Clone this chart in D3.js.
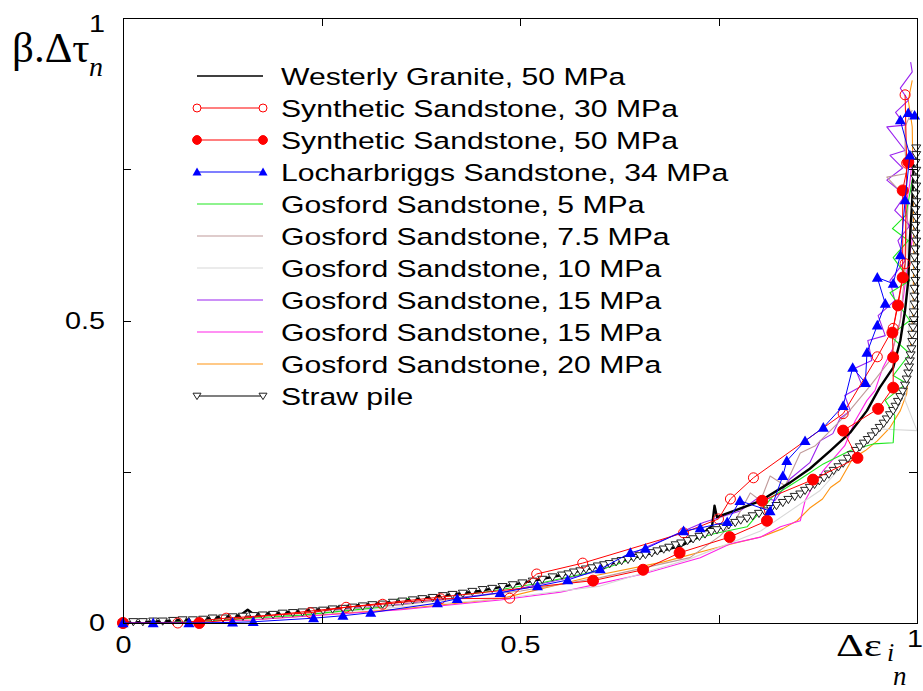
<!DOCTYPE html>
<html lang="en">
<head>
    <meta charset="UTF-8">
    <title>Normalised stress vs strain</title>
    <script type="text/javascript" src="https://cdn.jsdelivr.net/npm/d3@7/dist/d3.min.js"></script>
    <style>
        body { margin: 0; background: #fff; }
        .axis path,
        .axis line {
            fill: none;
            stroke: black;
            shape-rendering: crispEdges;
        }
        .axis text {
            font-family: "Liberation Sans", Arial, sans-serif;
            font-size: 24px;
            fill: black;
        }
        .legend text {
            font-family: "Liberation Sans", Arial, sans-serif;
            font-size: 24.5px;
        }
        .serif { font-family: "Liberation Serif", "Times New Roman", serif; }
    </style>
</head>
<body>
<script type="text/javascript">
    // series names (legend order)
    let seriesNames = [
        'Westerly Granite, 50 MPa',
        'Synthetic Sandstone, 30 MPa',
        'Synthetic Sandstone, 50 MPa',
        'Locharbriggs Sandstone, 34 MPa',
        'Gosford Sandstone, 5 MPa',
        'Gosford Sandstone, 7.5 MPa',
        'Gosford Sandstone, 10 MPa',
        'Gosford Sandstone, 15 MPa',
        'Gosford Sandstone, 15 MPa',
        'Gosford Sandstone, 20 MPa',
        'Straw pile'
    ];

    let xTicks = [0, 0.25, 0.5, 0.75, 1];
    let yTicks = [0, 0.25, 0.5, 0.75, 1];
    let tickLabels = {0: '0', 0.5: '0.5', 1: '1'};

    // [x, y] pairs
    let westerly = [[0,0],[0.048,0.003],[0.098,0.007],[0.148,0.013],[0.157,0.022],[0.164,0.015],[0.199,0.017],
        [0.249,0.023],[0.299,0.030],[0.350,0.036],[0.400,0.045],[0.450,0.053],[0.501,0.066],[0.551,0.079],
        [0.601,0.094],[0.652,0.111],[0.702,0.127],[0.727,0.144],[0.742,0.161],[0.745,0.194],[0.748,0.175],
        [0.777,0.189],[0.803,0.202],[0.840,0.232],[0.865,0.255],[0.891,0.285],[0.916,0.315],[0.937,0.351],
        [0.953,0.389],[0.970,0.422],[0.979,0.467],[0.985,0.517],[0.989,0.566],[0.991,0.632],[0.994,0.699],
        [0.996,0.765]];

    let synth30 = [[0,0],[0.069,0],[0.130,0.008],[0.236,0.017],[0.281,0.026],[0.327,0.031],[0.400,0.040],
        [0.487,0.041],[0.521,0.081],[0.579,0.099],[0.706,0.149],[0.750,0.172],[0.765,0.205],[0.794,0.240],
        [0.907,0.346],[0.950,0.440],[0.970,0.487],[0.985,0.594],[0.987,0.760],[0.985,0.873]];

    let synth50 = [[0,0],[0.096,0],[0.592,0.070],[0.655,0.088],[0.701,0.116],[0.764,0.142],[0.811,0.169],
        [0.805,0.202],[0.869,0.237],[0.925,0.273],[0.907,0.318],[0.951,0.354],[0.970,0.389],[0.970,0.439],
        [0.969,0.480],[0.976,0.525],[0.982,0.571],[0.982,0.715],[0.989,0.762]];

    let locharbriggs = [[0,0],[0.038,0],[0.083,0],[0.138,0.001],[0.164,0.002],[0.240,0.008],[0.277,0.012],
        [0.312,0.017],[0.396,0.033],[0.421,0.040],[0.475,0.050],[0.522,0.061],[0.560,0.071],[0.601,0.089],
        [0.639,0.116],[0.658,0.123],[0.706,0.152],[0.727,0.157],[0.761,0.167],[0.777,0.202],[0.815,0.185],
        [0.831,0.243],[0.836,0.268],[0.859,0.301],[0.882,0.323],[0.907,0.359],[0.919,0.422],[0.935,0.397],
        [0.937,0.447],[0.950,0.492],[0.960,0.528],[0.950,0.571],[0.970,0.561],[0.979,0.608],[0.985,0.699],
        [0.991,0.773],[0.979,0.831],[0.989,0.843],[0.997,0.839]];

    let gosford5 = [[0,0],[0.098,0.003],[0.224,0.013],[0.325,0.026],[0.347,0.040],[0.387,0.041],[0.450,0.050],
        [0.526,0.066],[0.597,0.086],[0.681,0.123],[0.743,0.147],[0.786,0.159],[0.803,0.185],[0.819,0.210],
        [0.853,0.238],[0.882,0.263],[0.916,0.285],[0.945,0.296],[0.970,0.298],[0.972,0.343],[0.960,0.368],
        [0.987,0.396],[0.970,0.409],[0.991,0.445],[0.966,0.475],[0.991,0.500],[0.966,0.546],[0.991,0.566],
        [0.970,0.604],[0.989,0.632],[0.969,0.652],[0.986,0.674],[0.994,0.732]];

    let gosford75 = [[0,0],[0.161,0.010],[0.350,0.030],[0.501,0.053],[0.601,0.075],[0.714,0.108],[0.752,0.144],
        [0.771,0.169],[0.790,0.215],[0.803,0.202],[0.815,0.243],[0.834,0.227],[0.853,0.281],[0.872,0.293],
        [0.891,0.318],[0.912,0.346],[0.941,0.392],[0.966,0.434],[0.979,0.500],[0.985,0.583],[0.987,0.649],
        [0.989,0.699],[0.962,0.737],[0.987,0.743],[0.985,0.781],[0.985,0.820],[0.994,0.848]];

    let gosford10 = [[0,0],[0.224,0.013],[0.475,0.040],[0.601,0.061],[0.714,0.106],[0.803,0.152],[0.878,0.219],
        [0.928,0.293],[0.947,0.321],[1.0,0.318],[0.985,0.368],[0.989,0.450],[0.991,0.533],[0.987,0.646]];

    let gosford15a = [[0,0],[0.161,0.010],[0.350,0.031],[0.475,0.050],[0.601,0.086],[0.655,0.123],[0.731,0.166],
        [0.777,0.185],[0.803,0.210],[0.821,0.202],[0.840,0.238],[0.865,0.265],[0.878,0.301],[0.894,0.313],
        [0.903,0.338],[0.916,0.351],[0.909,0.376],[0.931,0.392],[0.922,0.421],[0.943,0.434],[0.938,0.467],
        [0.960,0.475],[0.951,0.508],[0.972,0.533],[0.966,0.566],[0.985,0.599],[0.976,0.632],[0.991,0.657],
        [0.972,0.682],[0.985,0.707],[0.962,0.732],[0.982,0.752],[0.966,0.773],[0.985,0.781],[0.962,0.820],
        [0.985,0.823],[0.973,0.844],[0.989,0.864],[0.979,0.884],[0.994,0.911],[0.992,0.927]];

    let gosford15b = [[0,0],[0.161,0.005],[0.350,0.022],[0.475,0.038],[0.551,0.051],[0.655,0.081],[0.727,0.108],
        [0.765,0.131],[0.803,0.142],[0.828,0.159],[0.853,0.169],[0.859,0.202],[0.868,0.224],[0.882,0.252],
        [0.897,0.275],[0.909,0.293],[0.922,0.334],[0.937,0.368],[0.947,0.384],[0.957,0.422],[0.970,0.455],
        [0.979,0.500],[0.984,0.550],[0.989,0.599],[0.994,0.632],[0.985,0.682],[0.991,0.727],[0.995,0.781]];

    let gosford20 = [[0,0],[0.161,0.005],[0.350,0.023],[0.475,0.040],[0.597,0.079],[0.681,0.101],[0.752,0.126],
        [0.803,0.142],[0.831,0.156],[0.849,0.169],[0.865,0.190],[0.881,0.205],[0.891,0.224],[0.903,0.235],
        [0.919,0.272],[0.935,0.285],[0.950,0.301],[0.966,0.323],[0.979,0.351],[0.987,0.379],[0.991,0.439],
        [0.995,0.517],[0.996,0.616],[0.995,0.732],[0.994,0.820],[0.989,0.864],[0.994,0.897]];

    let strawPile = [[0,0],[0.013,0.002],[0.025,0.002],[0.038,0.003],[0.050,0.003],[0.063,0.004],[0.075,0.005],
        [0.088,0.005],[0.101,0.006],[0.113,0.008],[0.126,0.008],[0.138,0.010],[0.151,0.011],[0.164,0.012],
        [0.176,0.013],[0.189,0.014],[0.201,0.016],[0.214,0.017],[0.226,0.018],[0.239,0.020],[0.252,0.021],
        [0.264,0.023],[0.277,0.024],[0.289,0.026],[0.302,0.028],[0.314,0.030],[0.327,0.031],[0.340,0.034],
        [0.352,0.036],[0.365,0.038],[0.377,0.040],[0.390,0.042],[0.403,0.045],[0.415,0.047],[0.428,0.049],
        [0.440,0.052],[0.453,0.055],[0.465,0.057],[0.478,0.060],[0.491,0.063],[0.503,0.066],[0.516,0.069],
        [0.528,0.072],[0.541,0.076],[0.553,0.079],[0.561,0.081],[0.568,0.084],[0.576,0.086],[0.583,0.089],
        [0.591,0.091],[0.598,0.094],[0.606,0.096],[0.613,0.098],[0.621,0.101],[0.628,0.103],[0.636,0.105],
        [0.643,0.108],[0.651,0.111],[0.658,0.113],[0.666,0.116],[0.673,0.119],[0.681,0.122],[0.688,0.125],
        [0.696,0.129],[0.703,0.132],[0.711,0.136],[0.718,0.139],[0.726,0.143],[0.733,0.147],[0.741,0.151],
        [0.748,0.154],[0.756,0.158],[0.763,0.162],[0.771,0.166],[0.778,0.170],[0.786,0.173],[0.793,0.177],
        [0.801,0.181],[0.808,0.185],[0.816,0.189],[0.823,0.194],[0.831,0.199],[0.838,0.204],[0.846,0.209],
        [0.853,0.213],[0.859,0.219],[0.865,0.224],[0.871,0.229],[0.877,0.235],[0.883,0.240],[0.889,0.246],
        [0.895,0.252],[0.901,0.258],[0.907,0.264],[0.913,0.272],[0.918,0.278],[0.923,0.285],[0.928,0.291],
        [0.933,0.297],[0.938,0.303],[0.943,0.309],[0.948,0.316],[0.953,0.323],[0.958,0.330],[0.962,0.337],
        [0.966,0.344],[0.970,0.351],[0.973,0.358],[0.976,0.366],[0.979,0.374],[0.982,0.383],[0.985,0.393],
        [0.987,0.403],[0.989,0.413],[0.990,0.423],[0.991,0.433],[0.992,0.443],[0.993,0.453],[0.994,0.465],
        [0.994,0.477],[0.995,0.489],[0.996,0.501],[0.996,0.514],[0.997,0.527],[0.997,0.540],[0.997,0.553],
        [0.998,0.566],[0.998,0.579],[0.998,0.592],[0.997,0.605],[0.998,0.618],[0.999,0.631],[0.998,0.644],
        [0.998,0.657],[0.999,0.670],[0.998,0.683],[0.999,0.696],[0.998,0.709],[0.999,0.722],[0.998,0.735],
        [0.999,0.748],[0.998,0.761],[0.999,0.774],[0.999,0.785]];

    // canvas
    let width = 923;
    let height = 691;
    let plot = {left: 123, right: 917, top: 18, bottom: 623};

    let svg = d3.select('body')
        .append('svg')
        .attr('width', width)
        .attr('height', height);

    let xScale = d3.scaleLinear().domain([0, 1]).range([plot.left, plot.right]);
    let yScale = d3.scaleLinear().domain([0, 1]).range([plot.bottom, plot.top]);

    // series styles, same order as seriesNames
    let styles = [
        {data: westerly, color: '#000', width: 2.4, marker: null},
        {data: synth30, color: '#ff0000', width: 1, marker: 'circleOpen'},
        {data: synth50, color: '#ff0000', width: 1, marker: 'circleFill'},
        {data: locharbriggs, color: '#0000ff', width: 1, marker: 'triUp'},
        {data: gosford5, color: '#1ee81e', width: 1.1, marker: null},
        {data: gosford75, color: '#c09a9a', width: 1.1, marker: null},
        {data: gosford10, color: '#d8d8d8', width: 1.1, marker: null},
        {data: gosford15a, color: '#9a22f0', width: 1.1, marker: null},
        {data: gosford15b, color: '#ff22e8', width: 1.1, marker: null},
        {data: gosford20, color: '#ff9410', width: 1.1, marker: null},
        {data: strawPile, color: '#000', width: 1, marker: 'triDown'}
    ];

    let line = d3.line()
        .x(function (d) { return xScale(d[0]); })
        .y(function (d) { return yScale(d[1]); });

    function drawMarker(g, type, color, x, y, big) {
        let s = big ? 1 : 0.8;
        if (type === 'circleOpen') {
            g.append('circle').attr('cx', x).attr('cy', y).attr('r', 5 * s)
                .attr('fill', big ? 'none' : '#fff').attr('stroke', color).attr('stroke-width', 1);
        } else if (type === 'circleFill') {
            g.append('circle').attr('cx', x).attr('cy', y).attr('r', 5.5 * s)
                .attr('fill', color).attr('stroke', color);
        } else if (type === 'triUp') {
            let a = big ? 5.5 : 4.5;
            g.append('path')
                .attr('d', 'M' + x + ',' + (y - a) + 'L' + (x + a) + ',' + (y + a * 0.75) + 'L' + (x - a) + ',' + (y + a * 0.75) + 'Z')
                .attr('fill', color);
        } else if (type === 'triDown') {
            let a = big ? 4.5 : 4;
            g.append('path')
                .attr('d', 'M' + (x - a) + ',' + (y - a * 0.7) + 'L' + (x + a) + ',' + (y - a * 0.7) + 'L' + x + ',' + (y + a * 0.9) + 'Z')
                .attr('fill', '#fff').attr('stroke', '#222').attr('stroke-width', 1);
        }
    }

    // drawing order: Gosford lines underneath, then the rest
    let order = [9, 8, 7, 6, 5, 4, 0, 10, 1, 2, 3];
    let plotG = svg.append('g');
    order.forEach(function (i) {
        let st = styles[i];
        let g = plotG.append('g');
        g.append('path')
            .datum(st.data)
            .attr('d', line)
            .attr('fill', 'none')
            .attr('stroke', st.color)
            .attr('stroke-width', st.width)
            .attr('stroke-linejoin', 'round');
        if (st.marker) {
            st.data.forEach(function (d) {
                drawMarker(g, st.marker, st.color, xScale(d[0]), yScale(d[1]), true);
            });
        }
    });

    // axes, ticks pointing inward on all four sides
    function fmt(d) { return tickLabels[d] || ''; }
    let xAxis = d3.axisBottom(xScale).tickValues(xTicks).tickSize(-8).tickPadding(18).tickFormat(fmt);
    let yAxis = d3.axisLeft(yScale).tickValues(yTicks).tickSize(-8).tickPadding(18).tickFormat(fmt);

    let gx = svg.append('g').attr('class', 'axis')
        .attr('transform', 'translate(0,' + plot.bottom + ')').call(xAxis);
    let gy = svg.append('g').attr('class', 'axis')
        .attr('transform', 'translate(' + plot.left + ',0)').call(yAxis);
    svg.append('g').attr('class', 'axis')
        .attr('transform', 'translate(0,' + plot.top + ')')
        .call(d3.axisTop(xScale).tickValues(xTicks).tickSize(-8).tickFormat(''));
    svg.append('g').attr('class', 'axis')
        .attr('transform', 'translate(' + plot.right + ',0)')
        .call(d3.axisRight(yScale).tickValues(yTicks).tickSize(-8).tickFormat(''));

    // stretch tick labels horizontally like the original
    gx.selectAll('.tick text').attr('transform', 'scale(1.2,1)').attr('dy', '0.5em');
    gx.selectAll('.tick').filter(function (d) { return d === 1; }).select('text')
        .attr('y', 12).attr('x', -2);
    gy.selectAll('.tick text').each(function () {
        let t = d3.select(this);
        let x0 = +t.attr('x');
        t.attr('transform', 'translate(' + x0 + ',0) scale(1.2,1) translate(' + (-x0) + ',0)');
    });
    gy.selectAll('.tick').filter(function (d) { return d === 1; }).select('text').attr('dy', '0.55em');

    // axis titles
    svg.append('text').attr('class', 'serif')
        .attr('x', 12).attr('y', 62)
        .attr('font-size', 43)
        .text('β.Δτ');
    svg.append('text').attr('class', 'serif')
        .attr('x', 89).attr('y', 76)
        .attr('font-size', 28).attr('font-style', 'italic')
        .text('n');

    let xt = svg.append('g').attr('transform', 'translate(836,656) scale(1.35,1)');
    xt.append('text').attr('class', 'serif')
        .attr('font-size', 32)
        .text('Δε');
    svg.append('text').attr('class', 'serif')
        .attr('x', 887).attr('y', 661)
        .attr('font-size', 26).attr('font-style', 'italic')
        .text('i');
    svg.append('text').attr('class', 'serif')
        .attr('x', 893).attr('y', 685)
        .attr('font-size', 27).attr('font-style', 'italic')
        .text('n');

    // legend
    let legend = svg.append('g').attr('class', 'legend');
    let legX1 = 197, legX2 = 263, legTextX = 281, legY0 = 76, legStep = 32;
    seriesNames.forEach(function (name, i) {
        let st = styles[i];
        let y = legY0 + i * legStep;
        legend.append('line')
            .attr('x1', legX1).attr('x2', legX2)
            .attr('y1', y).attr('y2', y)
            .attr('stroke', st.color)
            .attr('stroke-width', i === 0 ? 1.6 : 1.2);
        if (st.marker) {
            drawMarker(legend, st.marker, st.color, legX1, y, false);
            drawMarker(legend, st.marker, st.color, legX2, y, false);
        }
        legend.append('g')
            .attr('transform', 'translate(' + legTextX + ',' + (y + 9) + ') scale(1.23,1)')
            .append('text')
            .text(name);
    });
</script>
</body>
</html>
